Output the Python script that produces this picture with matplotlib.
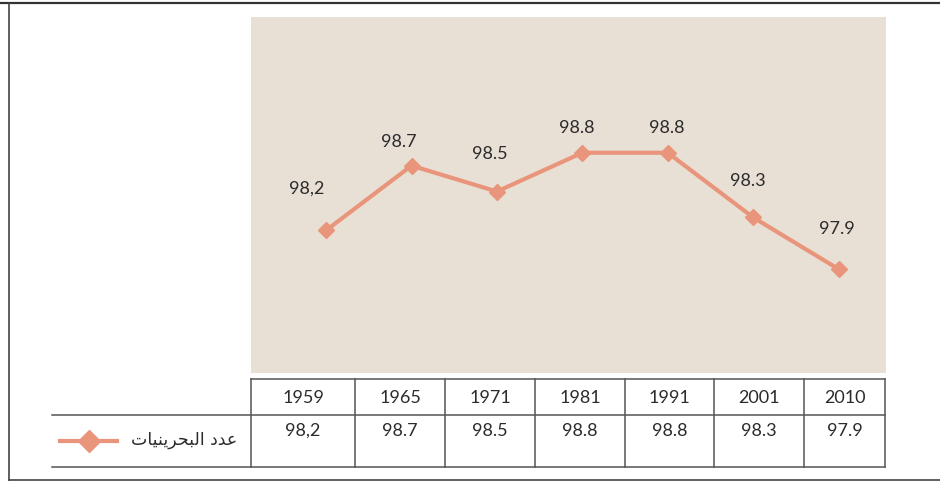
import matplotlib.pyplot as plt
from matplotlib.lines import Line2D

years = ['1959', '1965', '1971', '1981', '1991', '2001', '2010']
values = [98.2, 98.7, 98.5, 98.8, 98.8, 98.3, 97.9]
value_labels = ['98,2', '98.7', '98.5', '98.8', '98.8', '98.3', '97.9']
series_name = 'عدد البحرينيات'

# label offsets from each point (points)
label_dy = [30, 17, 27, 18, 18, 26, 29]
label_dx = [-14, -9, -5, -4, -1, -4, -1]

line_color = '#E8957B'
bg_color = '#E8E0D5'
text_color = '#2b2b2b'
grid_color = '#555555'


# matplotlib has no arabic shaping, so pick presentation forms by hand
FORMS = {
    'ع': ('\uFEC9', '\uFECA', '\uFECB', '\uFECC'),
    'د': ('\uFEA9', '\uFEAA', None, None),
    'ا': ('\uFE8D', '\uFE8E', None, None),
    'ل': ('\uFEDD', '\uFEDE', '\uFEDF', '\uFEE0'),
    'ب': ('\uFE8F', '\uFE90', '\uFE91', '\uFE92'),
    'ح': ('\uFEA1', '\uFEA2', '\uFEA3', '\uFEA4'),
    'ر': ('\uFEAD', '\uFEAE', None, None),
    'ي': ('\uFEF1', '\uFEF2', '\uFEF3', '\uFEF4'),
    'ن': ('\uFEE5', '\uFEE6', '\uFEE7', '\uFEE8'),
    'ت': ('\uFE95', '\uFE96', '\uFE97', '\uFE98'),
}


def shape(s):
    out = []
    for i, ch in enumerate(s):
        if ch not in FORMS:
            out.append(ch)
            continue
        prev = s[i - 1] if i > 0 else ''
        nxt = s[i + 1] if i + 1 < len(s) else ''
        jp = prev in FORMS and FORMS[prev][2] is not None
        jn = nxt in FORMS and FORMS[ch][2] is not None
        f = FORMS[ch]
        if jp and jn:
            out.append(f[3])
        elif jp:
            out.append(f[1])
        elif jn:
            out.append(f[2])
        else:
            out.append(f[0])
    return ''.join(out[::-1])


W, H = 940, 484
fig = plt.figure(figsize=(W / 100, H / 100), dpi=100)


def fr(x0, y0, x1, y1):
    return [x0 / W, 1 - y1 / H, (x1 - x0) / W, (y1 - y0) / H]


# overlay for frame, table and legend (pixel coordinates)
ov = fig.add_axes([0, 0, 1, 1])
ov.set_xlim(0, W)
ov.set_ylim(H, 0)
ov.axis('off')

ov.plot([0, W], [3, 3], color='#333333', lw=1.6)
ov.plot([9, 9], [3, 480], color='#444444', lw=1.2)
ov.plot([9, W], [480, 480], color='#444444', lw=1.2)

# main plot
ax = fig.add_axes(fr(251, 17, 885.5, 372.5))
ax.set_facecolor(bg_color)
x = list(range(len(values)))
ax.plot(x, values, color=line_color, lw=3, marker='D', ms=8.5, zorder=3)
for i, (v, lab) in enumerate(zip(values, value_labels)):
    ax.annotate(lab, (i, v), xytext=(label_dx[i], label_dy[i]),
                textcoords='offset points', ha='center', va='center',
                fontsize=13, color=text_color, family='Lato')
ax.set_xlim(-0.88, 6.55)
ax.set_ylim(97.1, 99.85)
for s in ax.spines.values():
    s.set_visible(False)
ax.set_xticks([])
ax.set_yticks([])

# data table
col_edges = [251, 355, 445, 535, 625, 714, 804, 885]
top, mid, bot = 379, 415, 467
lw = 1.1
ov.plot([col_edges[0], col_edges[-1]], [top, top], color=grid_color, lw=lw)
ov.plot([52, col_edges[-1]], [mid, mid], color=grid_color, lw=lw)
ov.plot([52, col_edges[-1]], [bot, bot], color=grid_color, lw=lw)
for e in col_edges:
    ov.plot([e, e], [top, bot], color=grid_color, lw=lw)

for i, (yr, lab) in enumerate(zip(years, value_labels)):
    cx = (col_edges[i] + col_edges[i + 1]) / 2
    ov.text(cx, (top + mid) / 2 + 1, yr, ha='center', va='center',
            fontsize=13, color=text_color, family='Lato')
    ov.text(cx, mid + 16, lab, ha='center', va='center',
            fontsize=13, color=text_color, family='Lato')

# legend in the row header
ov.add_line(Line2D([60, 117], [441, 441], color=line_color, lw=3))
ov.add_line(Line2D([89], [441], color=line_color, marker='D', ms=11, lw=0))
ov.text(237, 440, shape(series_name), ha='right', va='center',
        fontsize=12.5, color=text_color, family='DejaVu Sans')

fig.savefig('out.png', dpi=100)
